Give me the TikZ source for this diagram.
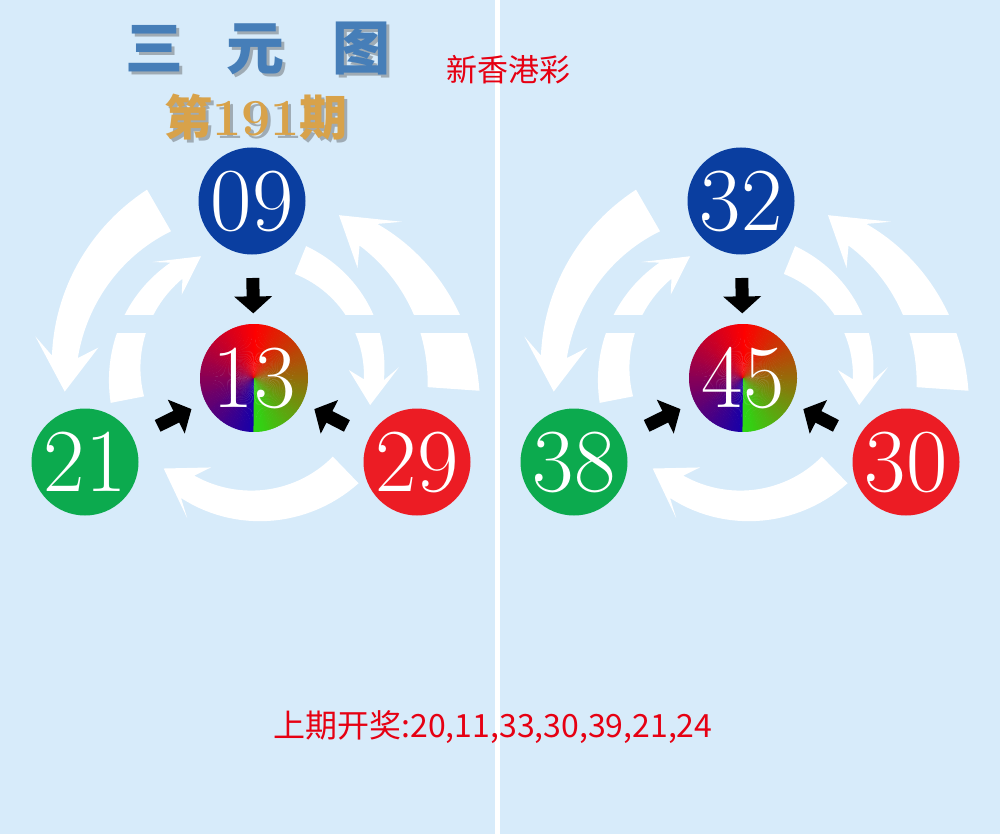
\documentclass[tikz,border=0pt]{standalone}
\usepackage{fontspec}
\newfontfamily\cjk{Noto Sans CJK SC}
\usetikzlibrary{arrows.meta,calc}

\definecolor{bgblue}{RGB}{215,235,250}
\definecolor{ballblue}{RGB}{10,62,160}
\definecolor{ballgreen}{RGB}{12,170,78}
\definecolor{ballred}{RGB}{236,28,36}
\definecolor{cblue}{RGB}{24,0,168}
\definecolor{cgreen}{RGB}{40,220,20}
\definecolor{titleblue}{RGB}{70,126,184}
\definecolor{gold}{RGB}{216,162,74}
\definecolor{textred}{RGB}{230,0,18}

\tikzset{
  ball/.style={circle, minimum size=107pt, inner sep=0pt, text=white, font=\fontsize{90}{90}\selectfont},
  blackarr/.style={line width=13pt, -{Triangle[width=37pt,length=17pt]}},
  shadowtext/.style={text=black!70, opacity=0.4},
  titlefont/.style={font=\cjk\bfseries\fontsize{58}{58}\selectfont},
  issuefont/.style={font=\cjk\bfseries\fontsize{48}{48}\selectfont},
}

% white curved arrow round the centre of a panel
% #1 tail angle, #2 head angle, #3 tip angle, #4 tail radius, #5 head radius,
% #6 tail width, #7 shaft width at head, #8 half width of head
\newcommand{\ringarrow}[8]{%
  \pgfmathsetmacro{\rb}{#2+0.3*(#3-(#2))}
  \fill[white] plot[domain=#1:\rb, samples=30] (\x:{#4+(#5-(#4))*(\x-(#1))/(\rb-(#1))+(#6+(#7-(#6))*(\x-(#1))/(\rb-(#1)))/2})
    -- (#2:{#5+#8}) -- (#3:#5) -- (#2:{#5-#8})
    -- plot[domain=\rb:#1, samples=30] (\x:{#4+(#5-(#4))*(\x-(#1))/(\rb-(#1))-(#6+(#7-(#6))*(\x-(#1))/(\rb-(#1)))/2}) -- cycle;}

\begin{document}
\begin{tikzpicture}[x=1pt,y=-1pt]
\fill[bgblue] (0,0) rectangle (1000,834);
\fill[white] (495,0) rectangle (500,834);

% two panels
\foreach \side/\dx/\na/\nb/\nc/\nd in {L/0/09/13/21/29, R/489/32/45/38/30} {
  \begin{scope}[xshift=\dx]
    \begin{scope}[shift={(254,375)}]
      \ringarrow{240}{190}{175}{190}{190}{48}{26}{32}
      \ringarrow{4}{-46}{-62}{200}{181}{52}{28}{32}
      \ringarrow{169}{228}{246}{129}{130}{34}{20}{22}
      \ringarrow{-68}{-3}{14.5}{124}{120}{30}{20}{25}
      \ringarrow{46}{115}{134}{132}{130}{37}{26}{28}
    \end{scope}
    \fill[bgblue] (100,315) rectangle (488,333);

    \coordinate (\side-c) at (254,378);
    \foreach \a in {0,2,...,178} {
      \pgfmathtruncatemacro{\p}{\a/1.8}
      \fill[red!\p!cblue] (\side-c) -- ++(90+\a:54) arc[start angle=90+\a, end angle=92.6+\a, radius=54] -- cycle;
      \fill[cgreen!\p!red] (\side-c) -- ++(270+\a:54) arc[start angle=270+\a, end angle=272.6+\a, radius=54] -- cycle;
    }
    \node[ball] (\side-mid) at (\side-c) {\nb};
    \node[ball, fill=ballblue] (\side-top) at (252,201) {\na};
    \node[ball, fill=ballgreen] (\side-left) at (85,462) {\nc};
    \node[ball, fill=ballred] (\side-right) at (417,462) {\nd};

    \draw[blackarr] ($(\side-top)!0.435!(\side-mid)$) -- ($(\side-top)!0.635!(\side-mid)$);
    \draw[blackarr] ($(\side-left)!0.43!(\side-mid)$) -- ($(\side-left)!0.63!(\side-mid)$);
    \draw[blackarr] ($(\side-right)!0.43!(\side-mid)$) -- ($(\side-right)!0.63!(\side-mid)$);
  \end{scope}
}

% titles
\node[shadowtext, titlefont] (title-sh) at (261,52) {三\hspace{43pt}元\hspace{48pt}图};
\node[text=titleblue, titlefont] (title) at (258,49) {三\hspace{43pt}元\hspace{48pt}图};
\node[shadowtext, issuefont] (issue-sh) at (259,120) {第{\rmfamily\bfseries\fontsize{52}{52}\selectfont 191}期};
\node[text=gold, issuefont] (issue) at (256,117) {第{\rmfamily\bfseries\fontsize{52}{52}\selectfont 191}期};
\node[text=textred, font=\cjk\fontsize{31}{31}\selectfont] (brand) at (508,70) {新香港彩};
\node[text=textred, font=\cjk\fontsize{32}{32}\selectfont] (last) at (493,727) {上期开奖:20,11,33,30,39,21,24};
\end{tikzpicture}
\end{document}
